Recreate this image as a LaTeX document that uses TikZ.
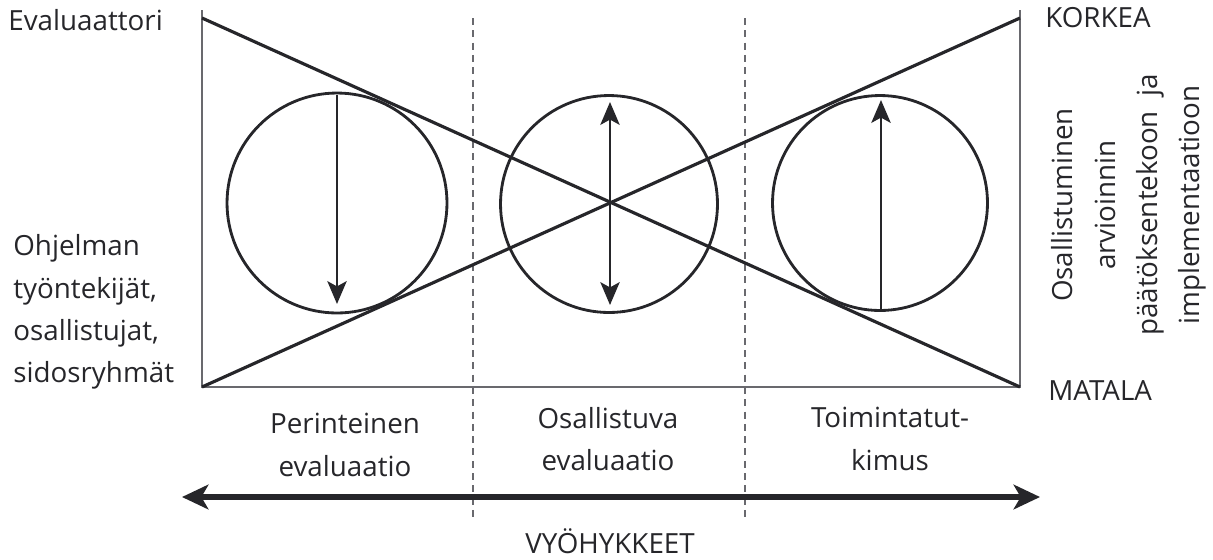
\documentclass[tikz,border=0pt]{standalone}
\usepackage{fontspec}
\setmainfont{Open Sans}
\usetikzlibrary{arrows.meta}
\definecolor{ink}{RGB}{38,38,42}
\definecolor{rule}{RGB}{105,105,110}
\tikzset{diag/.style={ink, line width=1.8pt},
ring/.style={circle, draw=ink, line width=1.6pt, inner sep=0pt},
%arrows inside the circles
pole/.style={ink, line width=1.3pt, -{Stealth[length=13pt,width=11pt,inset=3pt]}},
zone/.style={rule, line width=0.7pt, dash pattern=on 4pt off 3pt},
txt/.style={font=\fontsize{15.8}{24}\selectfont, text=ink, inner sep=0pt}}

\begin{document}
\begin{tikzpicture}[x=0.02cm,y=-0.02cm]
\useasboundingbox (0,0) rectangle (1213,559);
%\draw [help lines,step=50] (0,0) grid (1213,559);

% corners of the frame
\coordinate (tl) at (202,18);
\coordinate (tr) at (1020,18);
\coordinate (bl) at (202,387);
\coordinate (br) at (1020,387);
\coordinate (tlend) at (202,10);
\coordinate (trend) at (1020,10);

\draw[rule, line width=1pt] (tlend) -- (bl) -- (br) -- (trend);

% zones
\foreach \x/\name in {473/za,745/zb}{
  \coordinate (\name top) at (\x,18);
  \coordinate (\name bot) at (\x,520);
  \draw[zone] (\name top) -- (\name bot);
}

\draw[diag] (tl) -- (br);
\draw[diag] (bl) -- (tr);

% circles
\node[ring, minimum size=4.4cm] (trad) at (337,203) {};
\node[ring, minimum size=4.34cm] (part) at (609,204) {};
\node[ring, minimum size=4.3cm] (act) at (880,203) {};

\coordinate (tradtop) at (337,95);
\coordinate (tradbot) at (337,304);
\coordinate (parttop) at (610,102);
\coordinate (partbot) at (610,305);
\coordinate (acttop) at (881,100);
\coordinate (actbot) at (881,311);

\draw[pole] (tradtop) -- (tradbot);
\draw[pole, {Stealth[length=13pt,width=11pt,inset=3pt]}-{Stealth[length=13pt,width=11pt,inset=3pt]}] (parttop) -- (partbot);
\draw[pole] (actbot) -- (acttop);

%labels
\node[txt, anchor=base west] (evaluator) at (8,30) {Evaluaattori};
\node[txt, anchor=base west] (high) at (1045,27) {KORKEA};
\node[txt, anchor=base west] (low) at (1048,400) {MATALA};
\node[txt, anchor=west, align=left] (staff) at (13,312)
  {Ohjelman\\työntekijät,\\osallistujat,\\sidosryhmät};
\node[txt, rotate=90, align=center] (share) at (1129,205)
  {Osallistuminen\\arvioinnin\\päätöksentekoon\ \ ja\\implementaatioon};

\node[txt, align=center] (tradtext) at (345,445) {Perinteinen\\evaluaatio};
\node[txt, align=center] (parttext) at (608,439) {Osallistuva\\evaluaatio};
\node[txt, align=center] (acttext) at (890,439) {Toimintatut-\\kimus};

% zone axis
\coordinate (axl) at (182,497);
\coordinate (axr) at (1040,497);
\draw[ink, line width=3pt, {Stealth[length=15pt,width=14pt,inset=4pt]}-{Stealth[length=15pt,width=14pt,inset=4pt]}] (axl) -- (axr);
\node[txt, anchor=base] (zones) at (610,553) {VYÖHYKKEET};

\end{tikzpicture}
\end{document}
